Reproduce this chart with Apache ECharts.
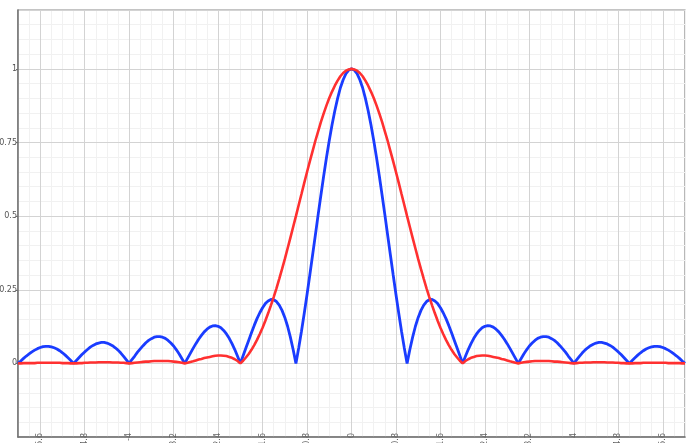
<!DOCTYPE html>
<html>
<head>
<meta charset="utf-8">
<style>html,body{margin:0;padding:0;background:#fff;}#c{width:694px;height:443px;}</style>
<script src="https://cdn.jsdelivr.net/npm/echarts@6/dist/echarts.min.js"></script>
</head>
<body>
<div id="c"></div>
<script>
// sample positions: -6 .. 6 in steps of 0.05 (241 samples)
const xStart = -6, xStepSize = 0.05, sampleCount = 241;
const xs = [];
for (let i = 0; i < sampleCount; i++) xs.push(Math.round((xStart + i * xStepSize) * 100) / 100);

const xTickValues = [-5.6, -4.8, -4, -3.2, -2.4, -1.6, -0.8, 0, 0.8, 1.6, 2.4, 3.2, 4, 4.8, 5.6];

// blue curve values
const blueValues = [
  0, .008, .017, .025, .032, .039, .045, .050, .054, .057, .058, .058, .056, .053, .049, .043, .036, .028, .019, .010,
  0, .010, .020, .030, .039, .047, .055, .061, .066, .069, .071, .071, .069, .065, .060, .053, .045, .035, .024, .012,
  0, .013, .025, .038, .049, .060, .070, .078, .084, .089, .091, .091, .089, .085, .078, .069, .059, .046, .032, .016,
  0, .017, .034, .051, .067, .082, .095, .107, .116, .123, .127, .128, .126, .121, .112, .100, .085, .067, .047, .024,
  0, .026, .052, .078, .104, .129, .152, .172, .189, .203, .212, .217, .216, .210, .198, .180, .156, .126, .089, .047,
  0, .052, .109, .170, .234, .300, .368, .436, .505, .572, .637, .699, .757, .810, .858, .900, .936, .963, .984, .996,
  1,
  .996, .984, .963, .936, .900, .858, .810, .757, .699, .637, .572, .505, .436, .368, .300, .234, .170, .109, .052, 0,
  .047, .089, .126, .156, .180, .198, .210, .216, .217, .212, .203, .189, .172, .152, .129, .104, .078, .052, .026, 0,
  .024, .047, .067, .085, .100, .112, .121, .126, .128, .127, .123, .116, .107, .095, .082, .067, .051, .034, .017, 0,
  .016, .032, .046, .059, .069, .078, .085, .089, .091, .091, .089, .084, .078, .070, .060, .049, .038, .025, .013, 0,
  .012, .024, .035, .045, .053, .060, .065, .069, .071, .071, .069, .066, .061, .055, .047, .039, .030, .020, .010, 0,
  .010, .019, .028, .036, .043, .049, .053, .056, .058, .058, .057, .054, .050, .045, .039, .032, .025, .017, .008, 0
];

// red curve values
const redValues = [
  0, 0, .001, .001, .001, .001, .001, .002, .002, .002, .002, .002, .002, .002, .002, .002, .001, .001, .001, 0,
  0, 0, .001, .001, .002, .002, .003, .003, .003, .004, .004, .004, .004, .004, .003, .003, .003, .002, .002, .001,
  0, .001, .002, .003, .004, .005, .006, .006, .007, .008, .008, .008, .008, .008, .008, .007, .006, .005, .004, .002,
  0, .002, .005, .007, .010, .013, .015, .018, .020, .022, .024, .026, .027, .027, .026, .025, .022, .019, .014, .008,
  0, .009, .020, .032, .046, .062, .080, .100, .121, .145, .170, .197, .225, .255, .287, .320, .354, .390, .426, .463,
  .5, .538, .575, .613, .650, .686, .721, .756, .788, .820, .849, .876, .901, .923, .943, .960, .975, .986, .994, .998,
  1,
  .998, .994, .986, .975, .960, .943, .923, .901, .876, .849, .820, .788, .756, .721, .686, .650, .613, .575, .538, .5,
  .463, .426, .390, .354, .320, .287, .255, .225, .197, .170, .145, .121, .100, .080, .062, .046, .032, .020, .009, 0,
  .008, .014, .019, .022, .025, .026, .027, .027, .026, .024, .022, .020, .018, .015, .013, .010, .007, .005, .002, 0,
  .002, .004, .005, .006, .007, .008, .008, .008, .008, .008, .008, .007, .006, .006, .005, .004, .003, .002, .001, 0,
  .001, .002, .002, .003, .003, .003, .004, .004, .004, .004, .004, .003, .003, .003, .002, .002, .001, .001, 0, 0,
  0, .001, .001, .001, .002, .002, .002, .002, .002, .002, .002, .002, .002, .001, .001, .001, .001, .001, 0, 0
];

const bluePts = xs.map((x, i) => [x, blueValues[i]]);
const redPts = xs.map((x, i) => [x, redValues[i]]);

const chart = echarts.init(document.getElementById('c'), null, {renderer: 'canvas'});
chart.setOption({
  animation: false,
  backgroundColor: '#fff',
  grid: {left: 18, right: 9, top: 10, bottom: 6, show: true, borderColor: '#8a8a8a', borderWidth: 1.2,
         containLabel: false, outerBoundsMode: 'none'},
  xAxis: [
    {
      type: 'value', min: -6, max: 6, interval: 0.8, z: 1,
      axisLine: {show: true, onZero: false, lineStyle: {color: '#6f6f6f', width: 1.5}},
      axisTick: {show: false, customValues: xTickValues},
      axisLabel: {show: true, customValues: xTickValues, rotate: 90, margin: -4, fontSize: 8, color: '#666', fontFamily: 'DejaVu Sans'},
      splitLine: {show: true, lineStyle: {color: '#d3d3d3', width: 1}}
    },
    {
      type: 'value', min: -6, max: 6, interval: 0.2, position: 'top', z: 0,
      axisLine: {show: false}, axisTick: {show: false}, axisLabel: {show: false},
      splitLine: {show: true, lineStyle: {color: '#f1f1f1', width: 1}}
    }
  ],
  yAxis: [
    {
      type: 'value', min: -0.25, max: 1.2, interval: 0.25, z: 1,
      axisLine: {show: true, onZero: false, lineStyle: {color: '#6f6f6f', width: 1.5}},
      axisTick: {show: true, length: 2, lineStyle: {color: '#6f6f6f'}},
      axisLabel: {show: true, showMinLabel: false, showMaxLabel: false, margin: 1, fontSize: 8, color: '#555', fontFamily: 'DejaVu Sans'},
      splitLine: {show: true, lineStyle: {color: '#d3d3d3', width: 1}}
    },
    {
      type: 'value', min: -0.25, max: 1.2, interval: 0.05, position: 'right', z: 0,
      axisLine: {show: false}, axisTick: {show: false}, axisLabel: {show: false},
      splitLine: {show: true, lineStyle: {color: '#f1f1f1', width: 1}}
    }
  ],
  series: [
    {
      type: 'line', data: bluePts, xAxisIndex: 0, yAxisIndex: 0, showSymbol: false, symbol: 'none',
      lineStyle: {color: '#1a3cff', width: 2.8}, z: 3
    },
    {
      type: 'line', data: redPts, xAxisIndex: 0, yAxisIndex: 0, showSymbol: false, symbol: 'none',
      lineStyle: {color: '#ff3030', width: 2.6}, z: 4
    }
  ]
});
</script>
</body>
</html>
